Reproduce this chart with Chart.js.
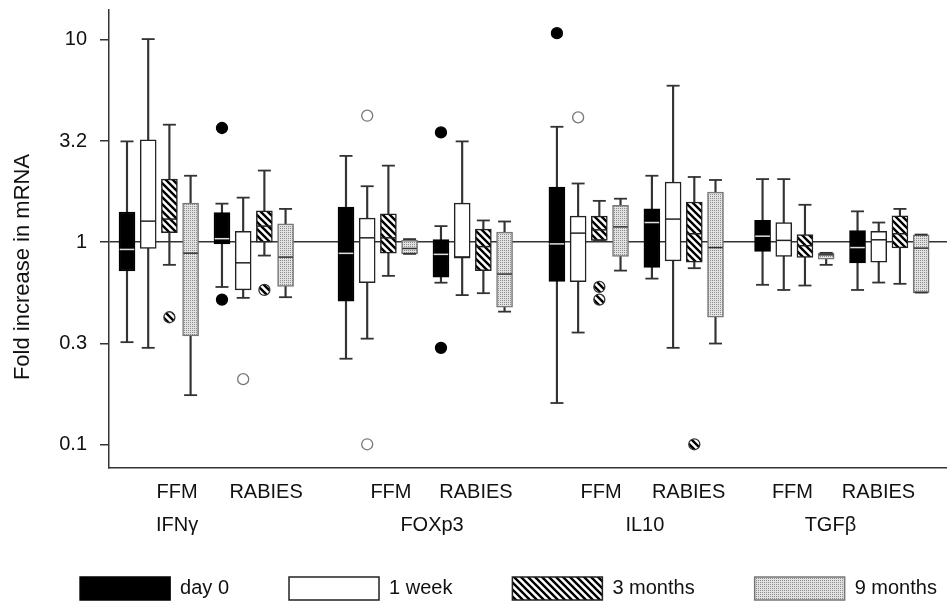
<!DOCTYPE html>
<html>
<head>
<meta charset="utf-8">
<script src="https://cdn.jsdelivr.net/npm/chart.js@4.4.0/dist/chart.umd.min.js"></script>
<style>
html,body{margin:0;padding:0;background:#fff;overflow:hidden}
#wrap{width:947px;height:605px}
</style>
</head>
<body>
<div id="wrap"><canvas id="c"></canvas></div>
<script>

/* DATA */
const genes = ['IFNγ', 'FOXp3', 'IL10', 'TGFβ'];
const groups = ['FFM', 'RABIES'];
const times = ['day 0', '1 week', '3 months', '9 months'];

// [min, q1, median, q3, max] per box
// order: IFNγ FFM, IFNγ RABIES, FOXp3 FFM, FOXp3 RABIES, IL10 FFM, IL10 RABIES, TGFβ FFM, TGFβ RABIES
const day0 = [
  [0.32, 0.72, 0.92, 1.41, 3.15],
  [0.60, 0.98, 1.04, 1.40, 1.55],
  [0.265, 0.51, 0.88, 1.49, 2.67],
  [0.63, 0.67, 0.87, 1.03, 1.20],
  [0.16, 0.64, 0.98, 1.87, 3.72],
  [0.66, 0.75, 1.25, 1.46, 2.13],
  [0.615, 0.90, 1.07, 1.28, 2.05],
  [0.58, 0.79, 0.94, 1.14, 1.42]
];
const week1 = [
  [0.30, 0.93, 1.27, 3.21, 10.1],
  [0.53, 0.58, 0.79, 1.13, 1.66],
  [0.333, 0.63, 1.05, 1.315, 1.89],
  [0.547, 0.833, 0.845, 1.56, 3.15],
  [0.357, 0.638, 1.108, 1.345, 1.95],
  [0.30, 0.808, 1.30, 1.98, 5.94],
  [0.58, 0.849, 1.02, 1.25, 2.05],
  [0.631, 0.796, 1.027, 1.13, 1.25]
];
const month3 = [
  [0.772, 1.115, 1.30, 2.05, 3.81],
  [0.858, 1.0, 1.20, 1.43, 2.26],
  [0.681, 0.882, 1.05, 1.38, 2.39],
  [0.559, 0.723, 0.95, 1.16, 1.28],
  [1.019, 1.019, 1.15, 1.345, 1.60],
  [0.743, 0.796, 1.10, 1.58, 2.10],
  [0.61, 0.839, 0.96, 1.09, 1.53],
  [0.622, 0.937, 1.10, 1.35, 1.46]
];
const month9 = [
  [0.175, 0.344, 0.882, 1.56, 2.13],
  [0.534, 0.603, 0.843, 1.23, 1.46],
  [0.875, 0.875, 0.93, 1.02, 1.035],
  [0.453, 0.477, 0.695, 1.12, 1.265],
  [0.723, 0.849, 1.19, 1.52, 1.64],
  [0.315, 0.425, 0.94, 1.77, 2.03],
  [0.772, 0.824, 0.865, 0.882, 0.885],
  [0.563, 0.563, 0.934, 1.087, 1.09]
];

// outliers: [box index, value]
const day0Out = [[1, 3.67], [1, 0.52], [3, 3.49], [3, 0.30], [4, 10.8]];
const week1Out = [[1, 0.21], [2, 4.22], [2, 0.10], [4, 4.14]];
const month3Out = [[0, 0.425], [1, 0.58], [4, 0.60], [4, 0.52], [5, 0.10]];
const month9Out = [];

const yTicks = [0.1, 0.316, 1, 3.16, 10];
const yTickLabels = ['0.1', '0.3', '1', '3.2', '10'];

/* LAYOUT (x axis units) */
const GENE_POS = [0, 10.33, 20.28, 29.98];
const GROUP_SHIFT = 4.48;
const GROUP_LABEL_POS = [2.36, 6.56, 12.45, 16.46, 22.36, 26.49, 31.39, 35.45];
const GENE_LABEL_POS = [2.36, 14.39, 24.43, 33.18];

function boxX(i, t){
  return GENE_POS[Math.floor(i / 2)] + (i % 2) * GROUP_SHIFT + t;
}

/* PATTERNS */
function hatchPattern(){
  const c = document.createElement('canvas');
  c.width = c.height = 7;
  const g = c.getContext('2d');
  g.fillStyle = '#fff';
  g.fillRect(0, 0, 7, 7);
  g.strokeStyle = '#000';
  g.lineWidth = 2.4;
  g.beginPath();
  g.moveTo(-2, -2); g.lineTo(9, 9);
  g.moveTo(-2, 5); g.lineTo(2, 9);
  g.moveTo(5, -2); g.lineTo(9, 2);
  g.stroke();
  return g.createPattern(c, 'repeat');
}

function dotPattern(){
  const c = document.createElement('canvas');
  c.width = c.height = 2;
  const g = c.getContext('2d');
  g.fillStyle = '#e2e2e2';
  g.fillRect(0, 0, 2, 2);
  g.fillStyle = '#8c8c8c';
  g.fillRect(0, 0, 1, 1);
  return g.createPattern(c, 'repeat');
}

const hatch = hatchPattern();
const dots = dotPattern();

const stats = [day0, week1, month3, month9];
const outs = [day0Out, week1Out, month3Out, month9Out];
const fills = ['#000', '#fff', hatch, dots];
const edges = ['#000', '#222', '#222', '#777'];
const medColor = ['#e0e0e0', '#222', '#222', '#333'];
const outFill = ['#000', '#fff', hatch, dots];
const outEdge = ['#000', '#777', '#333', '#777'];

/* DATASETS */
const datasets = [];
times.forEach((name, t) => {
  const s = stats[t];

  datasets.push({
    type: 'bar', label: name + ' whiskers',
    data: s.map((b, i) => ({x: boxX(i, t), y: [b[0], b[4]]})),
    barThickness: 1.5, backgroundColor: '#333', borderWidth: 0,
    grouped: false, order: 5
  });

  datasets.push({
    type: 'bar', label: name, isBox: true,
    data: s.map((b, i) => ({x: boxX(i, t), y: [b[1], b[3]]})),
    barThickness: 16, backgroundColor: fills[t], borderColor: edges[t],
    borderWidth: 1.5, borderSkipped: false, grouped: false, order: 4
  });

  datasets.push({
    type: 'scatter', label: name + ' caps',
    data: s.flatMap((b, i) => [{x: boxX(i, t), y: b[0]}, {x: boxX(i, t), y: b[4]}]),
    pointStyle: 'line', pointRadius: 6.5, pointBorderColor: '#333',
    pointBorderWidth: 1.8, order: 3
  });

  datasets.push({
    type: 'scatter', label: name + ' median',
    data: s.map((b, i) => ({x: boxX(i, t), y: b[2]})),
    pointStyle: 'line', pointRadius: 7.3, pointBorderColor: medColor[t],
    pointBorderWidth: 1.5, order: 2
  });

  datasets.push({
    type: 'scatter', label: name + ' outliers',
    data: outs[t].map(o => ({x: boxX(o[0], t), y: o[1]})),
    pointStyle: 'circle', pointRadius: 5.5, pointBackgroundColor: outFill[t],
    pointBorderColor: outEdge[t], pointBorderWidth: 1.3, order: 1
  });
});

/* TEXT LABELS */
const labelPlugin = {
  id: 'groupLabels',
  afterDraw(chart){
    const {ctx, chartArea, scales: {x}} = chart;
    ctx.save();
    ctx.fillStyle = '#111';
    ctx.textAlign = 'center';
    ctx.textBaseline = 'middle';
    ctx.font = '20px Arial, "Liberation Sans", sans-serif';
    GROUP_LABEL_POS.forEach((p, i) => {
      ctx.fillText(groups[i % 2], x.getPixelForValue(p), chartArea.bottom + 24);
    });
    GENE_LABEL_POS.forEach((p, i) => {
      ctx.fillText(genes[i], x.getPixelForValue(p), chartArea.bottom + 57);
    });
    ctx.font = '22px Arial, "Liberation Sans", sans-serif';
    ctx.translate(23, (chartArea.top + chartArea.bottom) / 2 + 28);
    ctx.rotate(-Math.PI / 2);
    ctx.fillText('Fold increase in mRNA', 0, 0);
    ctx.restore();
  }
};

Chart.defaults.font.family = 'Arial, "Liberation Sans", sans-serif';

new Chart(document.getElementById('c'), {
  type: 'bar',
  data: {datasets},
  plugins: [labelPlugin],
  options: {
    responsive: true,
    maintainAspectRatio: false,
    animation: false,
    events: [],
    // negative right padding only widens the legend row (centres it like the original)
    layout: {autoPadding: false, padding: {top: 10, left: 0, right: -70, bottom: -5}},
    plugins: {
      tooltip: {enabled: false},
      legend: {
        position: 'bottom',
        labels: {
          boxWidth: 90, boxHeight: 23, padding: 60,
          font: {size: 20}, color: '#111',
          filter: (item, data) => !!data.datasets[item.datasetIndex].isBox
        }
      }
    },
    scales: {
      x: {
        type: 'linear', min: -0.849, max: 38.68, offset: false,
        ticks: {display: false},
        grid: {display: false},
        border: {color: '#333', width: 1.5},
        afterFit: a => { a.height = 49; a.paddingLeft = 0; a.paddingRight = 0; }
      },
      y: {
        type: 'logarithmic', min: 0.07632, max: 14.07,
        afterBuildTicks: a => { a.ticks = yTicks.map(v => ({value: v})); },
        ticks: {
          callback: (v, i) => yTickLabels[i],
          padding: 13, autoSkip: false,
          font: {size: 20}, color: '#111'
        },
        grid: {
          color: c => (c.tick && c.tick.value === 1) ? '#333' : 'rgba(0,0,0,0)',
          tickColor: '#333', tickLength: 9, lineWidth: 1.5
        },
        border: {color: '#333', width: 1.5},
        afterFit: a => { a.width = 109; a.paddingTop = 0; a.paddingBottom = 0; }
      }
    }
  }
});
</script>
</body>
</html>
